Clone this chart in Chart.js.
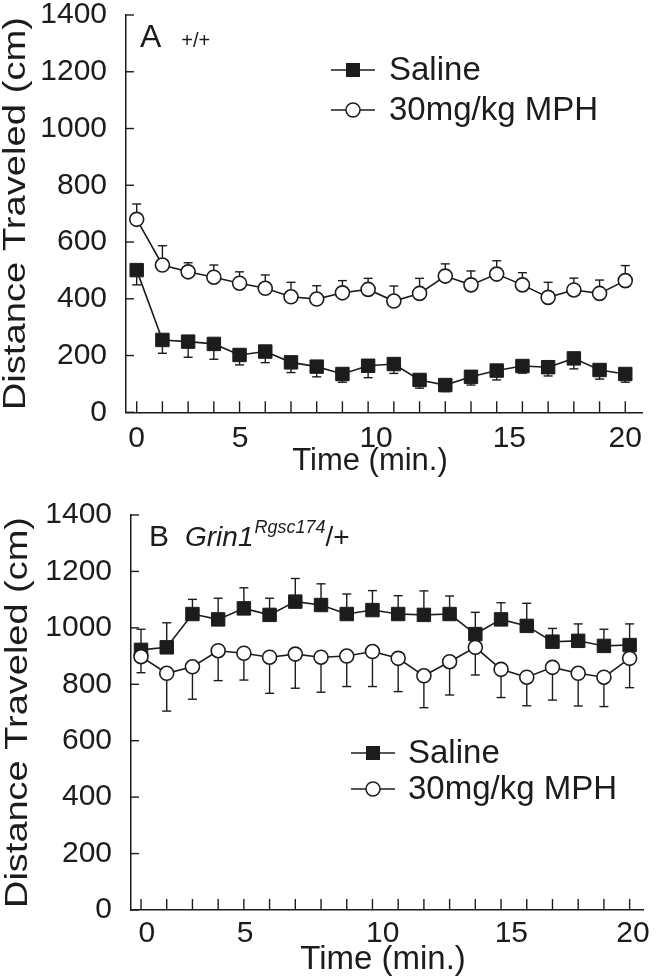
<!DOCTYPE html>
<html>
<head>
<meta charset="utf-8">
<script src="https://cdn.jsdelivr.net/npm/chart.js@4.4.1/dist/chart.umd.min.js"></script>
<style>
html, body { margin: 0; padding: 0; background: #fff; }
#wrap { position: relative; width: 662px; height: 976px; }
.pane { position: absolute; left: 0; width: 662px; height: 488px; }
</style>
</head>
<body>
<div id="wrap">
  <div class="pane" style="top:0"><canvas id="chartA"></canvas></div>
  <div class="pane" style="top:488px"><canvas id="chartB"></canvas></div>
</div>
<script>
// one-minute bins
const minutes = [1, 2, 3, 4, 5, 6, 7, 8, 9, 10, 11, 12, 13, 14, 15, 16, 17, 18, 19, 20];
// printed x labels and where they sit (in bin units)
const xTickLabels = ['0', '5', '10', '15', '20'];
const xTickPosA = [1, 5.02, 10.31, 15.49, 20];
const xTickPosB = [1.23, 5.05, 10.4, 15.4, 20.13];
const yTickStep = 200;

// panel A (+/+)
const salineA    = [501, 255, 249, 241, 202, 214, 176, 161, 135, 164, 170, 114, 96, 125, 147, 163, 159, 190, 149, 135];
const salineErrA = [52, 47, 55, 54, 35, 39, 36, 36, 29, 42, 33, 29, 23, 29, 33, 25, 31, 37, 32, 29];
const mphA       = [680, 519, 495, 476, 455, 437, 407, 399, 421, 433, 392, 419, 480, 449, 487, 449, 405, 431, 419, 464];
const mphErrA    = [54, 68, 32, 43, 40, 47, 51, 47, 43, 39, 53, 53, 43, 49, 47, 43, 53, 42, 47, 53];

// panel B (Grin1 Rgsc174/+)
const salineB    = [922, 931, 1049, 1030, 1069, 1046, 1093, 1081, 1049, 1063, 1049, 1046, 1049, 978, 1030, 1007, 951, 954, 936, 939];
const salineErrB = [73, 87, 52, 75, 73, 59, 82, 75, 71, 69, 65, 85, 64, 77, 59, 80, 47, 60, 59, 75];
const mphB       = [898, 839, 862, 919, 910, 896, 907, 896, 900, 916, 892, 830, 880, 931, 853, 825, 860, 839, 825, 892];
const mphErrB    = [57, 134, 115, 106, 95, 128, 121, 124, 108, 124, 118, 113, 118, 98, 100, 101, 116, 116, 104, 104];

const ink = '#1c1c1c';
const FAM = '"Liberation Sans", Arial, Helvetica, sans-serif';

function line(ctx, x1, y1, x2, y2) {
  ctx.beginPath(); ctx.moveTo(x1, y1); ctx.lineTo(x2, y2); ctx.stroke();
}

const decor = {
  id: 'decor',
  beforeDatasetsDraw(chart) {
    const { ctx, scales: { x, y } } = chart;
    ctx.save();
    ctx.strokeStyle = ink;
    ctx.lineWidth = 1.4;
    chart.data.datasets.forEach(ds => {
      ds.data.forEach((pt, i) => {
        const px = x.getPixelForValue(pt.x);
        const y0 = y.getPixelForValue(pt.y);
        const y1 = y.getPixelForValue(pt.y + ds.errDir * ds.err[i]);
        line(ctx, px, y0, px, y1);
        line(ctx, px - 4.5, y1, px + 4.5, y1);
      });
    });
    ctx.restore();
  },
  afterDraw(chart, args, opts) {
    const { ctx, chartArea: a, scales: { x, y } } = chart;
    ctx.save();
    ctx.strokeStyle = ink;
    ctx.fillStyle = ink;
    ctx.lineWidth = 1.4;
    // inward tick marks
    for (let v = 0; v <= 1400; v += yTickStep) {
      const py = y.getPixelForValue(v);
      line(ctx, a.left, py, a.left + 8, py);
    }
    minutes.forEach(m => {
      const px = x.getPixelForValue(m);
      line(ctx, px, a.bottom, px, a.bottom - 11);
    });

    // legend: line - marker - line, then the name
    chart.data.datasets.forEach((ds, i) => {
      const ly = opts.legendY + i * opts.legendGap;
      const lx = opts.legendX;
      ctx.lineWidth = 1.5;
      ctx.strokeStyle = ink;
      line(ctx, lx, ly, lx + 44, ly);
      ctx.beginPath();
      if (ds.pointStyle === 'rect') {
        ctx.fillStyle = ink;
        ctx.fillRect(lx + 15, ly - 7, 14, 14);
      } else {
        ctx.arc(lx + 22, ly, 7, 0, Math.PI * 2);
        ctx.fillStyle = '#fff';
        ctx.fill();
        ctx.stroke();
      }
      ctx.fillStyle = ink;
      ctx.font = '33px ' + FAM;
      ctx.textBaseline = 'middle';
      ctx.textAlign = 'left';
      ctx.fillText(ds.label, lx + opts.textDx, ly + 1);
    });

    // x title
    ctx.font = opts.xTitleSize + 'px ' + FAM;
    ctx.textAlign = 'center';
    ctx.textBaseline = 'middle';
    ctx.fillText('Time (min.)', opts.xTitleX, opts.xTitleY);

    // panel label
    ctx.textAlign = 'left';
    ctx.textBaseline = 'alphabetic';
    let cx = opts.tagX;
    opts.tag.forEach(p => {
      ctx.font = p.font + ' ' + FAM;
      cx += p.dx || 0;
      ctx.fillText(p.text, cx, opts.tagY + (p.dy || 0));
      cx += ctx.measureText(p.text).width;
    });

    // y title, stretched along its length like the scan
    const title = 'Distance Traveled (cm)';
    ctx.font = '32px ' + FAM;
    const w = ctx.measureText(title).width;
    const len = a.bottom - a.top - 4;
    ctx.translate(opts.yTitleX, (a.top + a.bottom) / 2);
    ctx.rotate(-Math.PI / 2);
    ctx.scale(len / w, 1);
    ctx.textAlign = 'center';
    ctx.textBaseline = 'middle';
    ctx.fillText(title, 0, 0);
    ctx.restore();
  }
};

function noPad(s) {
  s.paddingTop = 0; s.paddingBottom = 0; s.paddingLeft = 0; s.paddingRight = 0;
}

function makePanel(el, c) {
  return new Chart(el, {
    type: 'line',
    data: {
      datasets: [
        {
          label: 'Saline',
          data: minutes.map((m, i) => ({ x: m, y: c.saline[i] })),
          err: c.salineErr, errDir: c.salineDir,
          borderColor: ink, borderWidth: 1.6,
          pointStyle: 'rect', pointRadius: 9.5,
          pointBackgroundColor: ink, pointBorderColor: ink, pointBorderWidth: 1,
          order: 2
        },
        {
          label: '30mg/kg MPH',
          data: minutes.map((m, i) => ({ x: m, y: c.mph[i] })),
          err: c.mphErr, errDir: c.mphDir,
          borderColor: ink, borderWidth: 1.6,
          pointStyle: 'circle', pointRadius: 7,
          pointBackgroundColor: '#fff', pointBorderColor: ink, pointBorderWidth: 1.6,
          order: 1
        }
      ]
    },
    options: {
      responsive: true,
      maintainAspectRatio: false,
      animation: false,
      layout: { padding: { top: c.top, right: c.right, left: 0, bottom: 0 } },
      plugins: {
        legend: { display: false },
        tooltip: { enabled: false },
        decor: c.decor
      },
      scales: {
        x: {
          type: 'linear',
          min: c.xmin, max: c.xmax,
          border: { color: ink, width: 1.5 },
          grid: { display: false },
          afterBuildTicks: s => { s.ticks = c.xTickPos.map(v => ({ value: v })); },
          afterFit: s => { s.height = c.xH; noPad(s); },
          ticks: {
            autoSkip: false, maxRotation: 0, padding: c.xPad, color: ink,
            font: { family: FAM, size: 30 },
            callback: (v, i) => xTickLabels[i]
          }
        },
        y: {
          min: 0, max: 1400,
          border: { color: ink, width: 1.5 },
          grid: { display: false },
          afterFit: s => { s.width = c.left; noPad(s); },
          ticks: {
            stepSize: yTickStep, autoSkip: false, padding: 11, color: ink,
            font: { family: FAM, size: 30 },
            callback: v => String(v)
          }
        }
      }
    },
    plugins: [decor]
  });
}

makePanel(document.getElementById('chartA'), {
  saline: salineA, salineErr: salineErrA, salineDir: -1,
  mph: mphA, mphErr: mphErrA, mphDir: 1,
  xTickPos: xTickPosA, xmin: 0.584, xmax: 20.65,
  top: 15, right: 20, left: 126, xH: 75.7, xPad: 0,
  decor: {
    legendX: 331, legendY: 70, legendGap: 40, textDx: 58,
    tagX: 140, tagY: 47, yTitleX: 16,
    xTitleX: 370, xTitleY: 461, xTitleSize: 31,
    tag: [{ text: 'A', font: '32px' }, { text: '+/+', font: '20px', dx: 20 }]
  }
});

makePanel(document.getElementById('chartB'), {
  saline: salineB, salineErr: salineErrB, salineDir: 1,
  mph: mphB, mphErr: mphErrB, mphDir: -1,
  xTickPos: xTickPosB, xmin: 0.611, xmax: 20.52,
  top: 27, right: 19, left: 131, xH: 66, xPad: -2,
  decor: {
    legendX: 351, legendY: 265, legendGap: 36, textDx: 57,
    tagX: 149, tagY: 58, yTitleX: 18,
    xTitleX: 383, xTitleY: 472, xTitleSize: 33,
    tag: [
      { text: 'B', font: '30px' },
      { text: 'Grin1', font: 'italic 28px', dx: 16 },
      { text: 'Rgsc174', font: 'italic 18px', dy: -13, dx: 1 },
      { text: '/+', font: '28px' }
    ]
  }
});
</script>
</body>
</html>
